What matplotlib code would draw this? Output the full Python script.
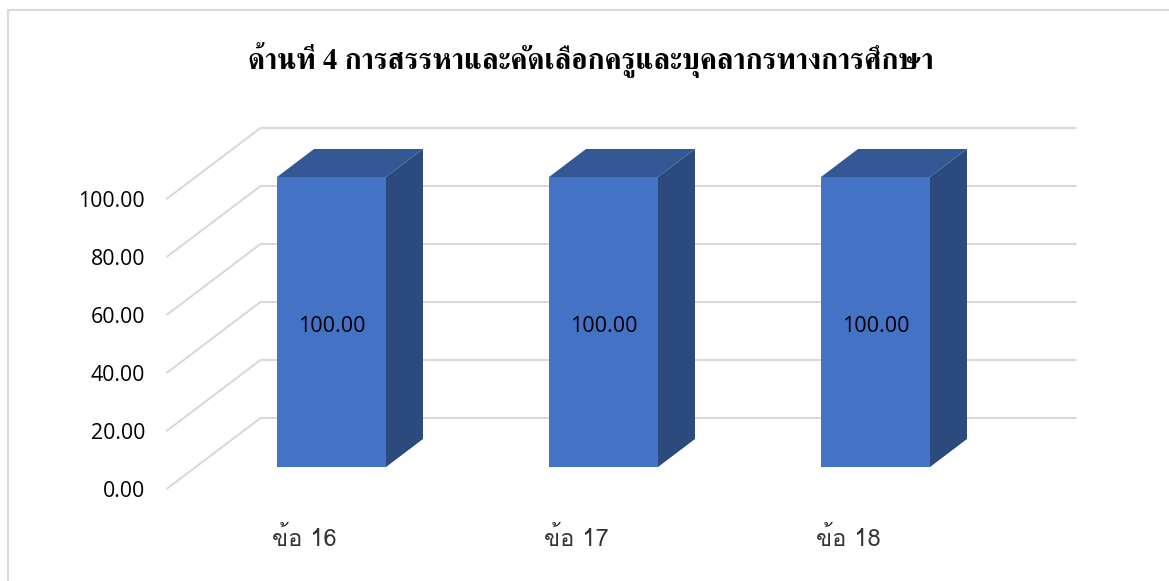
"""Pseudo-3D column chart drawn on a flat axes, Excel style."""
import matplotlib
matplotlib.use('Agg')
import matplotlib.pyplot as plt
from matplotlib.lines import Line2D
from matplotlib.patches import Polygon

W, H = 1169, 581

title = 'ด้านที่ 4 การสรรหาและคัดเลือกครูและบุคลากรทางการศึกษา'
categories = ['ข้อ 16', 'ข้อ 17', 'ข้อ 18']
values = [100.00, 100.00, 100.00]
y_ticks = [0, 20, 40, 60, 80, 100]

GRID = '#D9D9D9'
FRONT = '#4472C4'
TOP = '#345896'
SIDE = '#2B4A7E'

# offsets of the 3D look, in data units (1 category = 272 px, 1 y unit = 2.9 px)
WALL_DX, WALL_DY = 65 / 272, 49 / 2.9
FLOOR_DX, FLOOR_DY = -29 / 272, -22 / 2.9
BAR_DX, BAR_DY = 37 / 272, 28 / 2.9
BAR_W = 109 / 272


def main():
    fig = plt.figure(figsize=(W / 100, H / 100), dpi=100)
    fig.patch.set_facecolor('white')

    # chart frame, only top and left are in the crop
    fig.add_artist(Line2D([7.5 / W, 7.5 / W, 1], [0, 1 - 9.5 / H, 1 - 9.5 / H],
                          transform=fig.transFigure, color=GRID, lw=1.5))

    ax = fig.add_axes([195.5 / W, 1 - 467 / H, 816 / W, 290 / H])
    ax.set_xlim(-0.5, 2.5)
    ax.set_ylim(0, 100)
    ax.axis('off')

    x_left, x_right = -0.5, 2.5
    for v in y_ticks:
        ax.plot([x_left + FLOOR_DX, x_left + WALL_DX, x_right + WALL_DX],
                [v + FLOOR_DY, v + WALL_DY, v + WALL_DY],
                color=GRID, lw=1.5, clip_on=False, zorder=1, solid_capstyle='butt')
        ax.text(-0.686, v + FLOOR_DY - 0.7, '%.2f' % v, ha='right', va='center',
                family='Open Sans', fontsize=15.3, color='black', clip_on=False)

    for i, (cat, v) in enumerate(zip(categories, values)):
        x0, x1 = i - BAR_W / 2, i + BAR_W / 2
        ax.add_patch(Polygon([(x0, 0), (x1, 0), (x1, v), (x0, v)],
                             fc=FRONT, ec='none', clip_on=False, zorder=3))
        ax.add_patch(Polygon([(x0, v), (x1, v), (x1 + BAR_DX, v + BAR_DY), (x0 + BAR_DX, v + BAR_DY)],
                             fc=TOP, ec='none', clip_on=False, zorder=3))
        ax.add_patch(Polygon([(x1, 0), (x1 + BAR_DX, BAR_DY), (x1 + BAR_DX, v + BAR_DY), (x1, v)],
                             fc=SIDE, ec='none', clip_on=False, zorder=3))
        ax.text(i, v / 2 - 1.4, '%.2f' % v, ha='center', va='center',
                family='Open Sans', fontsize=15.5, color='black', zorder=4)
        ax.text(i + FLOOR_DX + 0.006, -24.7, cat, ha='center', va='center',
                family='Loma', fontsize=17, color='#333333', clip_on=False)

    fig.text(591 / W, 1 - 60 / H, title, ha='center', va='center',
             family='FreeSerif', weight='bold', fontsize=20.8, color='black')

    fig.savefig('out.png', dpi=100)


if __name__ == '__main__':
    main()
